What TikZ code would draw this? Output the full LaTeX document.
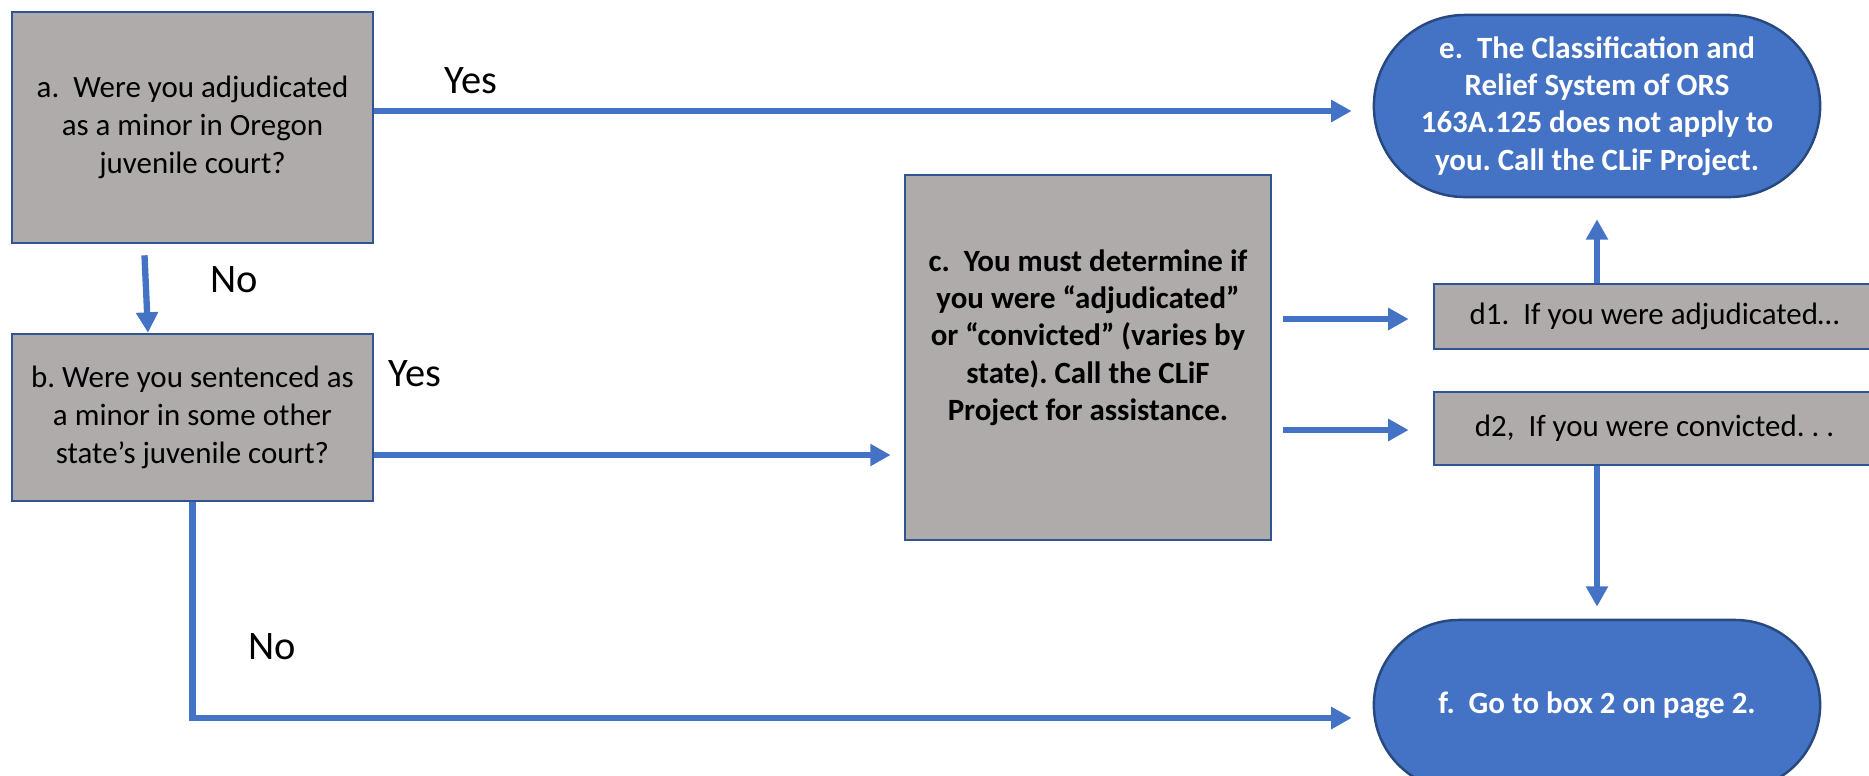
\documentclass[tikz,border=0pt]{standalone}
\usepackage{fontspec}
\setmainfont{Carlito}
\usetikzlibrary{arrows.meta,shapes.misc}
\definecolor{boxgray}{HTML}{AFABAB}
\definecolor{edgeblue}{HTML}{2F5597}
\definecolor{flowblue}{HTML}{4472C4}
\frenchspacing
\begin{document}
\begin{tikzpicture}[x=0.01cm,y=-0.01cm,
		qbox/.style={rectangle,draw=edgeblue,line width=0.7pt,fill=boxgray,align=center,
			font=\fontsize{8.8}{10.8}\selectfont,inner sep=0pt},
		boldtext/.style={align=center,font=\fontsize{8.8}{10.6}\selectfont\bfseries},
		endbox/.style={rounded rectangle,draw=edgeblue!85!black,line width=0.7pt,fill=flowblue,
			text=white,boldtext,inner sep=0pt},
		flow/.style={draw=flowblue,line width=1.8pt,-{Triangle[width=6pt,length=5.8pt]}},
		answer/.style={font=\fontsize{11.5}{13}\selectfont}]
		\useasboundingbox (0,0) rectangle (1869,775);
		\clip (0,0) rectangle (1869,775);
		% questions
		\node[qbox,minimum width=3.61cm,minimum height=2.31cm] (a) at (192.5,127.5)
		{a.\ \ Were you adjudicated\\as a minor in Oregon\\juvenile court?};
		\node[qbox,minimum width=3.61cm,minimum height=1.67cm] (b) at (192.5,417.5)
		{b. Were you sentenced as\\a minor in some other\\state’s juvenile court?};
		\node[qbox,minimum width=3.66cm,minimum height=3.65cm] (c) at (1088,357.5) {};
		\node[boldtext] (c-text) at ([yshift=0.2cm]c.center)
		{c.\ \ You must determine if\\you were “adjudicated”\\or “convicted” (varies by\\state). Call the CLiF\\Project for assistance.};
		\node[qbox,minimum width=4.41cm,minimum height=0.65cm] (d1) at (1654.5,316.5)
		{d1.\ \ If you were adjudicated…};
		\node[qbox,minimum width=4.41cm,minimum height=0.73cm] (d2) at (1654.5,428.5)
		{d2,\ \ If you were convicted.\ .\ .};
		% end points
		\node[endbox,minimum width=4.46cm,minimum height=1.82cm] (e) at (1597,106)
		{e.\ \ The Classification and\\Relief System of ORS\\163A.125 does not apply to\\you. Call the CLiF Project.};
		\node[endbox,minimum width=4.46cm,minimum height=1.70cm] (f) at (1597,705)
		{f.\ \ Go to box 2 on page 2.};
		% answers
		\node[answer] (yes1) at (471,81) {Yes};
		\node[answer] (no1) at (234,280) {No};
		\node[answer] (yes2) at (415,374) {Yes};
		\node[answer] (no2) at (272,647) {No};
		% arrows
		\draw[flow,shorten >=0.21cm] (a.east |- 0,111) -- (e.west |- 0,111);
		\draw[flow,shorten <=0.11cm] (a.south -| 144,0) -- (b.north -| 148,0);
		\draw[flow,shorten >=0.13cm] (b.east |- 0,455) -- (c.west |- 0,455);
		\draw[flow,shorten <=0.11cm,shorten >=0.24cm] (c.east |- 0,319) -- (d1.west |- 0,319);
		\draw[flow,shorten <=0.11cm,shorten >=0.24cm] (c.east |- 0,430) -- (d2.west |- 0,430);
		\draw[flow,shorten >=0.21cm] (d1.north -| e.south) -- (e.south);
		\draw[flow,shorten >=0.12cm] (d2.south -| f.north) -- (f.north);
		\draw[flow,shorten >=0.21cm] (b.south) |- (f.west |- 0,718);
	\end{tikzpicture}
\end{document}
